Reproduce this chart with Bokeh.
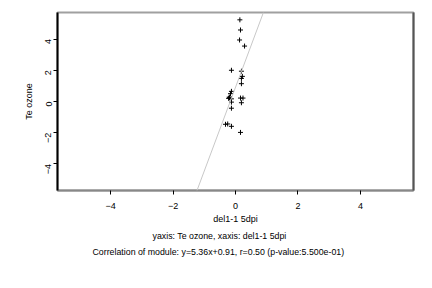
import math
from bokeh.plotting import figure
from bokeh.models import Range1d, FixedTicker, Slope, Title, LinearAxis
from bokeh.embed import file_html
from bokeh.resources import INLINE

x_vals = [0.14, 0.16, 0.13, 0.29, -0.13, 0.19, 0.22, 0.19, 0.19, -0.13, -0.16,
          -0.19, -0.22, -0.20, -0.13, 0.16, 0.24, -0.13, 0.19, -0.13, -0.32,
          -0.25, -0.13, 0.16]
y_vals = [5.23, 4.58, 3.94, 3.55, 2.00, 1.94, 1.61, 1.48, 1.14, 0.65, 0.50,
          0.24, 0.20, 0.28, 0.17, 0.22, 0.22, -0.04, -0.08, -0.43, -1.46,
          -1.44, -1.59, -1.98]
slope_val = 5.36
intercept_val = 0.91
ticks = [-4, -2, 0, 2, 4]
x_label = "del1-1 5dpi"
y_label = "Te ozone"
title1 = "yaxis: Te ozone, xaxis: del1-1 5dpi"
title2 = "Correlation of module: y=5.36x+0.91, r=0.50 (p-value:5.500e-01)"

FONT = "Liberation Sans"

p = figure(width=432, height=288, output_backend="svg", toolbar_location=None,
           x_range=Range1d(-5.7, 5.7), y_range=Range1d(-5.7, 5.7),
           min_border_left=57, min_border_right=19, min_border_top=12,
           min_border_bottom=98)
p.xgrid.visible = False
p.ygrid.visible = False
p.background_fill_color = "white"
p.border_fill_color = "white"
p.outline_line_color = "#a0a0a0"
p.outline_line_width = 2

for ax in (p.xaxis[0], p.yaxis[0]):
    ax.ticker = FixedTicker(ticks=ticks)
    ax.minor_tick_line_color = None
    ax.major_tick_in = 0
    ax.major_tick_out = 4
    ax.major_tick_line_color = "black"
    ax.major_label_text_font = FONT
    ax.major_label_text_font_size = "9px"
    ax.major_label_text_color = "black"
    ax.axis_label_text_font = FONT
    ax.axis_label_text_font_size = "9px"
    ax.axis_label_text_font_style = "normal"
    ax.axis_label_text_color = "black"

p.xaxis[0].axis_line_color = "#888888"
p.xaxis[0].axis_line_width = 2
p.xaxis[0].major_label_standoff = 8
p.xaxis[0].axis_label = x_label
p.xaxis[0].axis_label_standoff = 2

p.yaxis[0].axis_line_color = "black"
p.yaxis[0].axis_line_width = 2
p.yaxis[0].major_label_orientation = math.pi / 2
p.yaxis[0].major_label_standoff = 5
p.yaxis[0].axis_label = y_label
p.yaxis[0].axis_label_standoff = 6

right = LinearAxis(ticker=FixedTicker(ticks=[]), major_label_text_font_size="0px",
                   axis_line_color="#555555", axis_line_width=2,
                   major_tick_line_color=None, minor_tick_line_color=None)
p.add_layout(right, "right")
p.min_border_right = 19

slope = Slope(gradient=slope_val, y_intercept=intercept_val,
              line_color="#c8c8c8", line_width=1)
p.add_layout(slope)

p.scatter(x_vals, y_vals, marker="cross", size=5, line_color="black", line_width=1)

t1 = Title(text=title1, align="left", offset=95, standoff=5,
           text_font=FONT, text_font_size="8.8px", text_font_style="normal",
           text_color="black")
t2 = Title(text=title2, align="left", offset=35, standoff=2,
           text_font=FONT, text_font_size="8.8px", text_font_style="normal",
           text_color="black")
p.add_layout(t1, "below")
p.add_layout(t2, "below")

open("out.html", "w").write(file_html(p, INLINE))
